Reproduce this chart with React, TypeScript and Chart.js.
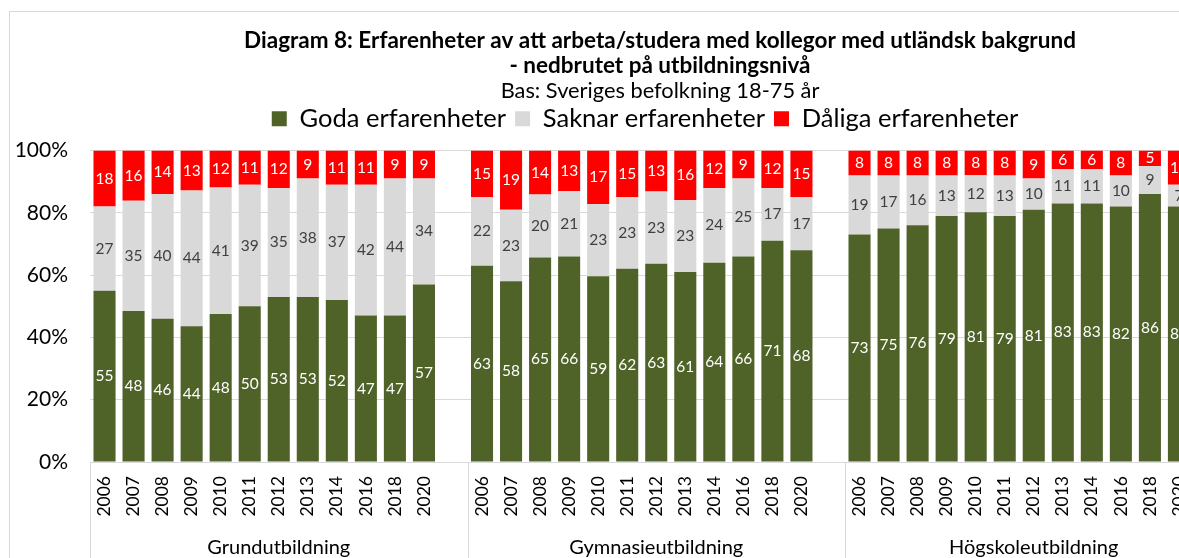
import React, { useEffect, useRef } from 'react';
import { Chart, registerables } from 'chart.js';

Chart.register(...registerables);

// ---------- data ----------
const years = ['2006', '2007', '2008', '2009', '2010', '2011', '2012', '2013', '2014', '2016', '2018', '2020'];
const groups = ['Grundutbildning', 'Gymnasieutbildning', 'Högskoleutbildning'];
const seriesNames = ['Goda erfarenheter', 'Saknar erfarenheter', 'Dåliga erfarenheter'];

const godaGrund = [55, 48, 46, 44, 48, 50, 53, 53, 52, 47, 47, 57];
const saknarGrund = [27, 35, 40, 44, 41, 39, 35, 38, 37, 42, 44, 34];
const daligaGrund = [18, 16, 14, 13, 12, 11, 12, 9, 11, 11, 9, 9];

const godaGymn = [63, 58, 65, 66, 59, 62, 63, 61, 64, 66, 71, 68];
const saknarGymn = [22, 23, 20, 21, 23, 23, 23, 23, 24, 25, 17, 17];
const daligaGymn = [15, 19, 14, 13, 17, 15, 13, 16, 12, 9, 12, 15];

const godaHogsk = [73, 75, 76, 79, 81, 79, 81, 83, 83, 82, 86, 82];
const saknarHogsk = [19, 17, 16, 13, 12, 13, 10, 11, 11, 10, 9, 7];
const daligaHogsk = [8, 8, 8, 8, 8, 8, 9, 6, 6, 8, 5, 11];

const titleLines = [
  'Diagram 8: Erfarenheter av att arbeta/studera med kollegor med utländsk bakgrund',
  '- nedbrutet på utbildningsnivå',
];
const subtitleText = 'Bas: Sveriges befolkning 18-75 år';
const yTickValues = [0, 20, 40, 60, 80, 100];

// ---------- styles ----------
const FONT = 'Lato, "Open Sans", sans-serif';
const seriesColors = ['#4F6228', '#D9D9D9', '#FF0000'];
const valueLabelColors = ['#FFFFFF', '#404040', '#FFFFFF'];
const GRID = '#D9D9D9';
const CANVAS_W = 1290;
const CANVAS_H = 580;

// ---------- build tables ----------
const bySeries = [
  [godaGrund, godaGymn, godaHogsk],
  [saknarGrund, saknarGymn, saknarHogsk],
  [daligaGrund, daligaGymn, daligaHogsk],
];

const categories: string[] = [];
groups.forEach(() => {
  years.forEach((y) => categories.push(y));
  categories.push('');
});

const rawSeries: (number | null)[][] = bySeries.map((perGroup) => {
  const out: (number | null)[] = [];
  perGroup.forEach((arr) => {
    arr.forEach((v) => out.push(v));
    out.push(null);
  });
  return out;
});

const totals = categories.map((_, i) => {
  let s = 0;
  rawSeries.forEach((r) => (s += r[i] ?? 0));
  return s;
});

const normSeries = rawSeries.map((r) => r.map((v, i) => (v == null ? null : (v / totals[i]) * 100)));

const SLOTS_PER_GROUP = years.length + 1;

// ---------- plugins ----------
const framePlugin = {
  id: 'frameAndTitle',
  beforeDraw(chart: any) {
    const { ctx } = chart;
    ctx.save();
    ctx.fillStyle = '#FFFFFF';
    ctx.fillRect(0, 0, chart.width, chart.height);
    ctx.strokeStyle = GRID;
    ctx.lineWidth = 1;
    ctx.strokeRect(9.5, 11.5, chart.width + 20, chart.height + 20);
    ctx.restore();
  },
  afterDraw(chart: any) {
    const { ctx } = chart;
    const cx = 660;
    ctx.save();
    ctx.fillStyle = '#000000';
    ctx.textAlign = 'center';
    ctx.textBaseline = 'alphabetic';
    ctx.font = `bold 22.5px ${FONT}`;
    ctx.fillText(titleLines[0], cx, 48);
    ctx.fillText(titleLines[1], cx, 73);
    ctx.font = `21.8px ${FONT}`;
    ctx.fillText(subtitleText, cx, 98);
    ctx.restore();
  },
};

const groupAxisPlugin = {
  id: 'groupAxis',
  afterDraw(chart: any) {
    const xs = chart.scales.x;
    const { ctx } = chart;
    const slot = xs.width / categories.length;
    ctx.save();
    ctx.strokeStyle = GRID;
    ctx.lineWidth = 1;
    for (let g = 0; g <= groups.length; g++) {
      const idx = g * SLOTS_PER_GROUP;
      const px = idx < categories.length ? xs.getPixelForValue(idx) - slot / 2 : xs.right;
      const xx = Math.round(px) + 0.5;
      ctx.beginPath();
      ctx.moveTo(xx, xs.top);
      ctx.lineTo(xx, chart.height);
      ctx.stroke();
    }
    ctx.fillStyle = '#000000';
    ctx.font = `20px ${FONT}`;
    ctx.textAlign = 'center';
    ctx.textBaseline = 'middle';
    groups.forEach((name, g) => {
      const a = xs.getPixelForValue(g * SLOTS_PER_GROUP) - slot / 2;
      const b = xs.getPixelForValue(g * SLOTS_PER_GROUP + SLOTS_PER_GROUP - 1) + slot / 2;
      ctx.fillText(name, (a + b) / 2, 548);
    });
    ctx.restore();
  },
};

const valueLabelPlugin = {
  id: 'valueLabels',
  afterDatasetsDraw(chart: any) {
    const { ctx } = chart;
    ctx.save();
    ctx.font = `15.5px ${FONT}`;
    ctx.textAlign = 'center';
    ctx.textBaseline = 'middle';
    chart.data.datasets.forEach((ds: any, di: number) => {
      const meta = chart.getDatasetMeta(di);
      meta.data.forEach((el: any, i: number) => {
        const raw = rawSeries[di][i];
        if (raw == null) return;
        const { x, y, base } = el.getProps(['x', 'y', 'base'], true);
        ctx.fillStyle = valueLabelColors[di];
        ctx.fillText(String(raw), x, (y + base) / 2);
      });
    });
    ctx.restore();
  },
};

export default function App() {
  const ref = useRef<HTMLCanvasElement | null>(null);

  useEffect(() => {
    if (!ref.current) return;
    const chart = new Chart(ref.current, {
      type: 'bar',
      data: {
        labels: categories,
        datasets: normSeries.map((d, i) => ({
          label: seriesNames[i],
          data: d,
          backgroundColor: seriesColors[i],
          borderWidth: 0,
          barPercentage: 0.76,
          categoryPercentage: 1.0,
        })),
      },
      options: {
        responsive: false,
        animation: false,
        devicePixelRatio: 1,
        layout: { padding: { top: 97, left: 0, right: 0, bottom: 0 } },
        plugins: {
          legend: {
            position: 'top',
            labels: {
              boxWidth: 15,
              boxHeight: 15,
              padding: 9,
              color: '#000000',
              font: { family: FONT, size: 25.5 },
            },
          },
          title: { display: false },
          tooltip: { enabled: false },
        },
        scales: {
          x: {
            stacked: true,
            grid: { display: false, drawTicks: false },
            border: { display: true, color: GRID },
            ticks: {
              autoSkip: false,
              minRotation: 90,
              maxRotation: 90,
              padding: 14,
              color: '#000000',
              font: { family: FONT, size: 17.5 },
            },
            afterFit(scale: any) {
              scale.height = CANVAS_H - 462;
            },
          },
          xTop: {
            type: 'category',
            position: 'top',
            display: true,
            grid: { display: false, drawTicks: false },
            border: { display: false },
            ticks: { display: false },
            afterFit(scale: any) {
              scale.height = 9;
            },
          },
          y: {
            stacked: true,
            min: 0,
            max: 100,
            afterBuildTicks(scale: any) {
              scale.ticks = yTickValues.map((v) => ({ value: v }));
            },
            ticks: {
              padding: 22,
              color: '#000000',
              font: { family: FONT, size: 21 },
              callback: (v: any) => `${v}%`,
            },
            grid: { color: GRID, drawTicks: false },
            border: { display: false },
            afterFit(scale: any) {
              scale.width = 90;
            },
          },
          yRight: {
            type: 'linear',
            position: 'right',
            display: true,
            grid: { display: false, drawTicks: false },
            border: { display: false },
            ticks: { display: false },
            afterFit(scale: any) {
              scale.width = CANVAS_W - 1222.5;
            },
          },
        },
      } as any,
      plugins: [framePlugin, groupAxisPlugin, valueLabelPlugin],
    });
    return () => chart.destroy();
  }, []);

  return (
    <div
      style={{
        position: 'fixed',
        left: 0,
        top: 0,
        width: 1179,
        height: 558,
        overflow: 'hidden',
        background: '#FFFFFF',
      }}
    >
      <canvas ref={ref} width={CANVAS_W} height={CANVAS_H} style={{ display: 'block', width: CANVAS_W, height: CANVAS_H }} />
    </div>
  );
}
